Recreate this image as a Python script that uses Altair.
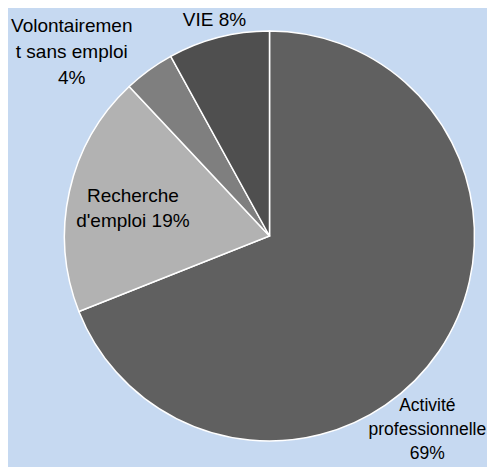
import altair as alt
import pandas as pd

categories = ["Activité professionnelle", "Recherche d'emploi", "Volontairement sans emploi", "VIE"]
values = [69, 19, 4, 8]
labels = ["Activité\nprofessionnelle\n69%", "Recherche\nd'emploi 19%", "Volontairemen\nt sans emploi\n4%", "VIE 8%"]
colors = ["#606060", "#b2b2b2", "#7f7f7f", "#4f4f4f"]

df = pd.DataFrame({
    "cat": categories,
    "val": values,
    "label": labels,
    "rang": list(range(len(categories))),
})

CX, CY, R = 261.5, 228, 205
FONT = "Liberation Sans, Arial"

base = alt.Chart(df).transform_window(
    end="sum(val)", sort=[alt.SortField("rang")], frame=[None, 0]
).transform_calculate(
    start="datum.end - datum.val",
    mid="datum.end - datum.val / 2",
)

theta_scale = alt.Scale(domain=[0, 100], range=[0, 6.283185307179586])

arcs = base.mark_arc(outerRadius=R, stroke="white", strokeWidth=1.5).encode(
    theta=alt.Theta("start:Q", scale=theta_scale),
    theta2="end:Q",
    color=alt.Color("cat:N", scale=alt.Scale(domain=categories, range=colors), legend=None),
    x=alt.value(CX),
    y=alt.value(CY),
)

# label placement: (category, radius, dx, dy, font size, line height)
placement = [
    ("Activité professionnelle", 232, -34, 45, 17.5, 24),
    ("Recherche d'emploi", 140, 0, -3, 19, 25),
    ("Volontairement sans emploi", 282, -32, 24, 19, 26),
    ("VIE", 217, -1, 0, 19, 25),
]

layers = [arcs]
for cat, rad, dx, dy, fs, lh in placement:
    layers.append(
        base.transform_filter(alt.datum.cat == cat).mark_text(
            radius=rad, dx=dx, dy=dy, align="center", baseline="alphabetic",
            font=FONT, fontSize=fs, lineHeight=lh, lineBreak="\n", color="black",
        ).encode(
            theta=alt.Theta("mid:Q", scale=theta_scale),
            text="label:N",
            x=alt.value(CX),
            y=alt.value(CY),
        )
    )

chart = alt.layer(*layers).properties(
    width=479, height=459, padding=0, autosize=alt.AutoSizeParams(type="none"),
    background="#c6d9f1",
).configure_view(stroke=None)

chart.save("out.html", embed_options={"renderer": "svg", "actions": False})
